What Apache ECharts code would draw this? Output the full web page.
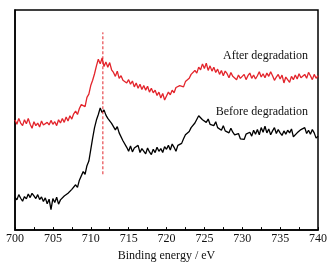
<!DOCTYPE html>
<html>
<head>
<meta charset="utf-8">
<script src="https://cdn.jsdelivr.net/npm/echarts@6/dist/echarts.min.js"></script>
<style>
html, body { margin: 0; padding: 0; background: #fff; }
#chart { width: 333px; height: 267px; }
</style>
</head>
<body>
<div id="chart"></div>
<script>
// binding energy, 700 -> 740 eV, 0.25 eV steps
var energyStart = 700, energyStep = 0.25;

// intensity (a.u.), one row per eV
var beforeData = [
	100, 92, 108, 97,
	88, 102, 95, 110,
	99, 112, 104, 96,
	108, 93, 101, 87,
	98, 80, 94, 62,
	96, 84, 100, 79,
	92, 86, 104, 98,
	112, 106, 124, 118,
	138, 130, 152, 146,
	178, 170, 196, 210,
	245, 280, 312, 335,
	352, 372, 358, 366,
	350, 340, 346, 325,
	322, 305, 315, 296,
	290, 272, 268, 252,
	240, 256, 238, 250,
	244, 258, 236, 248,
	242, 232, 250, 238,
	230, 246, 236, 252,
	240, 248, 236, 254,
	246, 258, 244, 262,
	252, 240, 258, 262,
	264, 278, 290, 284,
	300, 312, 306, 326,
	332, 348, 342, 336,
	340, 328, 338, 322,
	326, 318, 330, 312,
	316, 304, 318, 302,
	306, 296, 310, 298,
	290, 284, 294, 278,
	282, 276, 292, 286,
	298, 286, 304, 292,
	306, 290, 312, 298,
	316, 296, 308, 290,
	302, 312, 294, 306,
	296, 288, 302, 292,
	304, 296, 308, 284,
	278, 296, 290, 306,
	300, 312, 294, 304,
	292, 306, 296, 280,
	286
];

var afterData = [
	335, 322, 340, 326,
	318, 336, 324, 340,
	322, 310, 330, 318,
	326, 314, 332, 320,
	316, 328, 320, 334,
	322, 330, 318, 336,
	326, 340, 328, 344,
	332, 348, 338, 354,
	362, 352, 370, 382,
	388, 376, 404, 414,
	440, 456, 476, 500,
	520, 506, 524, 498,
	512, 496, 510, 488,
	480, 468, 484, 462,
	470, 456, 462, 448,
	458, 444, 454, 436,
	448, 432, 444, 428,
	440, 426, 438, 420,
	432, 418, 426, 410,
	420, 402, 416, 396,
	408, 420, 412, 426,
	418, 434, 428, 440,
	444, 436, 452, 446,
	462, 474, 468, 486,
	478, 496, 488, 506,
	492, 508, 486, 500,
	484, 496, 480, 490,
	474, 486, 470, 484,
	476, 464, 480, 468,
	470, 458, 472, 462,
	466, 474, 458, 470,
	478, 462, 472, 460,
	470, 482, 466, 476,
	464, 478, 468, 482,
	470, 456, 466, 474,
	460, 472, 448, 466,
	462, 450, 468, 458,
	472, 460, 476, 464,
	458, 474, 462, 480,
	470, 458, 474, 462,
	470
];

// dashed reference line: energy and its vertical span
var peakEnergy = 711.6;
var peakSpan = [170, 602];

function pairs(values) {
	var out = [];
	for (var i = 0; i < values.length; i++) {
		out.push([energyStart + i * energyStep, values[i]]);
	}
	return out;
}

var serif = '"Liberation Serif", "DejaVu Serif", serif';
var red = '#e3242b';

var myChart = echarts.init(document.getElementById('chart'));
var option = {
	animation: false,
	grid: {
		left: 15,
		right: 15,
		top: 10,
		bottom: 33,
		show: true,
		borderColor: '#000',
		borderWidth: 1.5,
		backgroundColor: '#fff'
	},
	xAxis: {
		type: 'value',
		min: 700,
		max: 740,
		interval: 5,
		name: 'Binding energy / eV',
		nameLocation: 'middle',
		nameGap: 17,
		nameTextStyle: { color: '#111', fontFamily: serif, fontSize: 12 },
		axisLine: { show: true, lineStyle: { color: '#000', width: 1.5 } },
		axisTick: { show: true, inside: true, length: 3, lineStyle: { color: '#000' } },
		minorTick: { show: true, splitNumber: 2, length: 3, lineStyle: { color: '#000' } },
		axisLabel: { color: '#111', fontFamily: serif, fontSize: 12, margin: 3 },
		splitLine: { show: false }
	},
	yAxis: {
		type: 'value',
		min: 0,
		max: 670,
		axisLine: { show: true, lineStyle: { color: '#000', width: 1.5 } },
		axisTick: { show: false },
		axisLabel: { show: false },
		splitLine: { show: false }
	},
	series: [
		{
			name: 'After degradation',
			type: 'line',
			showSymbol: false,
			data: pairs(afterData),
			itemStyle: { color: red },
			lineStyle: { color: red, width: 1.3 }
		},
		{
			name: 'Before degradation',
			type: 'line',
			showSymbol: false,
			data: pairs(beforeData),
			itemStyle: { color: '#000' },
			lineStyle: { color: '#000', width: 1.3 }
		},
		{
			name: 'peak',
			type: 'line',
			showSymbol: false,
			data: [[peakEnergy, peakSpan[0]], [peakEnergy, peakSpan[1]]],
			itemStyle: { color: red },
			lineStyle: { color: red, width: 1, type: [3, 2] }
		}
	],
	graphic: [
		{
			type: 'text',
			right: 25,
			top: 50,
			style: { text: 'After degradation', fill: '#111', font: '12px ' + serif }
		},
		{
			type: 'text',
			right: 25,
			top: 106,
			style: { text: 'Before degradation', fill: '#111', font: '12px ' + serif }
		}
	]
};
myChart.setOption(option);
window.addEventListener('resize', function() {
	myChart.resize();
});
</script>
</body>
</html>
